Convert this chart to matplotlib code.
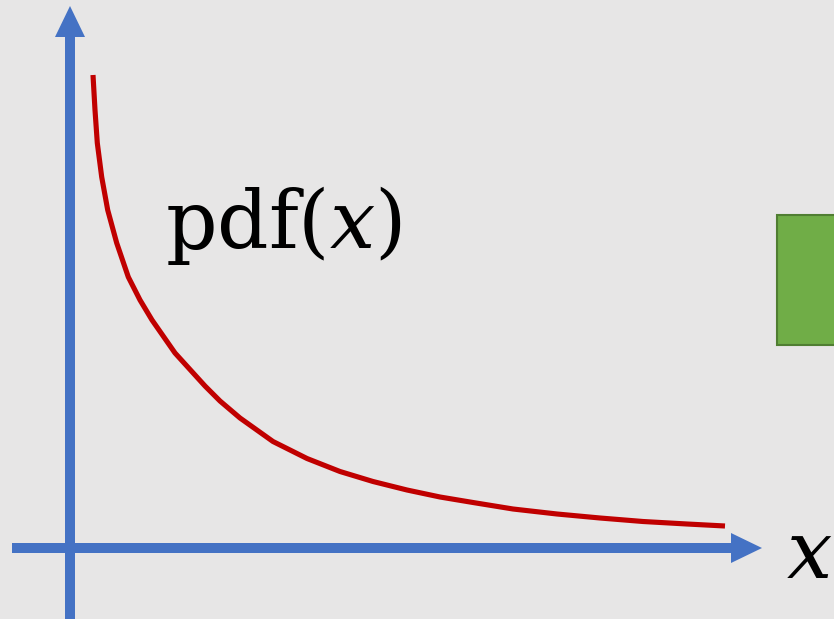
import matplotlib
matplotlib.use("Agg")
import matplotlib.pyplot as plt
from matplotlib.patches import Rectangle

plt.rcParams['mathtext.fontset'] = 'dejavuserif'

# punkty krzywej (x, y) w układzie z początkiem na przecięciu osi
curve_x = [23, 25, 27.3, 31.7, 37.7, 46.7, 58.3, 70, 82, 105, 135, 150, 170,
           203, 237, 270, 303, 337, 370, 403, 443, 487, 530, 573, 617, 655]
curve_y = [473, 438, 405, 371, 338, 305, 271, 248, 228, 195, 162, 147, 130,
           106.5, 89.5, 76.5, 66.5, 58, 51, 45.5, 39, 34, 30, 26.5, 24, 22]

curve_label = r'$\mathrm{pdf}(x)$'
axis_label = r'$x$'

bg = '#e7e6e6'
blue = '#4472c4'
red = '#c00000'

fig = plt.figure(figsize=(8.34, 6.19), dpi=100)
fig.patch.set_facecolor(bg)
ax = fig.add_axes([0, 0, 1, 1])
ax.set_facecolor(bg)
ax.set_xlim(-70, 764)
ax.set_ylim(-71, 548)
ax.axis('off')

# osie ze strzałkami
ax.arrow(0, -71, 0, 613, width=10, head_width=30, head_length=31,
         length_includes_head=True, color=blue, lw=0)
ax.arrow(-58, 0, 750, 0, width=10, head_width=30, head_length=31,
         length_includes_head=True, color=blue, lw=0)

# krzywa
ax.plot(curve_x, curve_y, color=red, lw=3.7, solid_capstyle='butt',
        solid_joinstyle='round')

ax.text(95, 300, curve_label, fontsize=58, va='baseline', ha='left')
ax.text(716, -30, axis_label, fontsize=58, va='baseline', ha='left')

# zielony prostokąt (ucięty przy krawędzi)
ax.add_patch(Rectangle((707, 203), 120, 130, facecolor='#70ad47',
                       edgecolor='#507e32', lw=1.5))

fig.savefig('out.png', dpi=100, facecolor=bg)
